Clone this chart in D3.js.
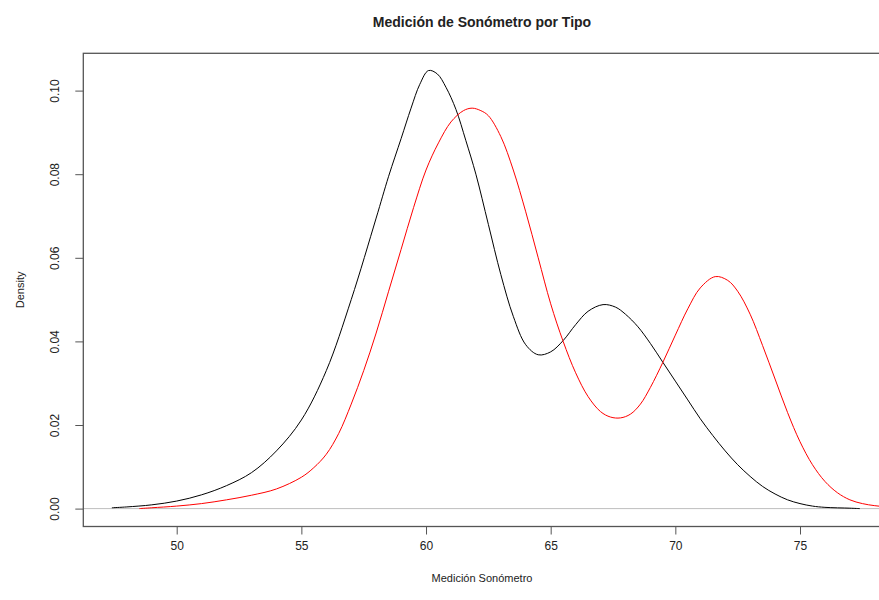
<!DOCTYPE html>
<html>
<head>
<meta charset="utf-8">
<script src="https://cdn.jsdelivr.net/npm/d3@7"></script>
<style>
  html, body { margin: 0; padding: 0; background: #fff; }
  svg { display: block; }
  text { font-family: "Liberation Sans", Arial, sans-serif; fill: #222; }
</style>
</head>
<body>
<svg id="chart" width="879" height="600"></svg>
<script>
// ---- Data ----
const title = "Medición de Sonómetro por Tipo";
const xLabel = "Medición Sonómetro";
const yLabel = "Density";
const xTicks = [50, 55, 60, 65, 70, 75];
const yTicks = [0, 0.02, 0.04, 0.06, 0.08, 0.10];

// Series 1 (black)
const blackX = [47.4, 48, 49, 50, 51, 52, 53, 54, 55, 56, 57, 58, 58.5, 59, 59.4, 59.75, 60.1, 60.45, 60.8, 61.2, 61.6, 62, 62.5, 63, 63.5, 64, 64.5, 65, 65.5, 66, 66.5, 67.1, 67.6, 68, 68.5, 69, 69.5, 70, 70.5, 71, 71.5, 72, 72.5, 73, 73.5, 74, 74.5, 75, 75.5, 76, 77, 77.4];
const blackY = [0.0002, 0.0004, 0.0009, 0.0018, 0.0033, 0.0055, 0.0086, 0.0138, 0.0212, 0.0330, 0.0500, 0.0695, 0.0795, 0.0885, 0.0958, 0.1015, 0.1048, 0.1040, 0.1008, 0.0955, 0.0880, 0.0800, 0.0680, 0.0560, 0.0460, 0.0392, 0.0368, 0.0375, 0.0402, 0.0440, 0.0472, 0.0488, 0.0482, 0.0465, 0.0435, 0.0395, 0.0350, 0.0305, 0.0260, 0.0215, 0.0175, 0.0138, 0.0105, 0.0077, 0.0053, 0.0035, 0.0021, 0.0012, 0.0006, 0.0003, 0.0001, 0.0000];

// Series 2 (red)
const redX = [48.5, 49, 50, 51, 52, 53, 54, 55, 55.5, 56, 56.5, 57, 57.5, 58, 58.5, 59, 59.5, 60, 60.5, 61, 61.5, 61.85, 62.2, 62.5, 63, 63.5, 64, 64.5, 65, 65.5, 66, 66.5, 67, 67.4, 67.8, 68.2, 68.6, 69, 69.5, 70, 70.5, 71, 71.6, 72.1, 72.5, 73, 73.5, 74, 74.5, 75, 75.5, 76, 76.5, 77, 77.5, 78, 78.5, 79];
const redY = [0.0000, 0.0002, 0.0006, 0.0012, 0.0021, 0.0032, 0.0047, 0.0075, 0.0098, 0.0130, 0.0180, 0.0250, 0.0330, 0.0420, 0.0520, 0.0620, 0.0720, 0.0810, 0.0875, 0.0925, 0.0952, 0.0958, 0.0952, 0.0940, 0.0890, 0.0810, 0.0710, 0.0600, 0.0490, 0.0400, 0.0325, 0.0268, 0.0232, 0.0219, 0.0217, 0.0226, 0.0250, 0.0290, 0.0350, 0.0415, 0.0478, 0.0528, 0.0555, 0.0546, 0.0520, 0.0465, 0.0390, 0.0310, 0.0230, 0.0160, 0.0105, 0.0065, 0.0038, 0.0021, 0.0012, 0.0007, 0.0004, 0.0002];

const series = [
  { name: "black", xs: blackX, ys: blackY, color: "#000000" },
  { name: "red", xs: redX, ys: redY, color: "#ff0000" }
];

// ---- Layout ----
const plot = { left: 83.3, right: 880.7, top: 53.3, bottom: 526.5 };

const x = d3.scaleLinear().domain([50, 75]).range([176.7, 800]);
const y = d3.scaleLinear().domain([0, 0.10]).range([508.6, 90.6]);

const svg = d3.select("#chart");

svg.append("defs").append("clipPath").attr("id", "clip")
  .append("rect")
  .attr("x", plot.left).attr("y", plot.top)
  .attr("width", plot.right - plot.left).attr("height", plot.bottom - plot.top);

// Zero reference line (gray)
svg.append("line")
  .attr("x1", plot.left).attr("x2", plot.right)
  .attr("y1", y(0)).attr("y2", y(0))
  .attr("stroke", "#bebebe").attr("stroke-width", 1);

// Density curves
const line = d3.line()
  .x(d => x(d[0]))
  .y(d => y(d[1]))
  .curve(d3.curveCatmullRom.alpha(0.5));

const g = svg.append("g").attr("clip-path", "url(#clip)");
series.forEach(s => {
  const pts = s.xs.map((v, i) => [v, s.ys[i]]);
  g.append("path")
    .datum(pts)
    .attr("d", line)
    .attr("fill", "none")
    .attr("stroke", s.color)
    .attr("stroke-width", 1);
});

// Plot box
svg.append("rect")
  .attr("x", plot.left).attr("y", plot.top)
  .attr("width", plot.right - plot.left).attr("height", plot.bottom - plot.top)
  .attr("fill", "none").attr("stroke", "#555").attr("stroke-width", 1.3);

// X axis (R-style: ticks below the box)
const xAxis = d3.axisBottom(x).tickValues(xTicks).tickSize(8).tickPadding(7).tickFormat(d3.format("d"));
const xg = svg.append("g").attr("transform", `translate(0,${plot.bottom})`).call(xAxis);
xg.select(".domain").remove();
xg.selectAll(".tick line").attr("stroke", "#555");
xg.selectAll(".tick text").attr("font-size", 12).attr("fill", "#333")
  .style("font-family", '"Liberation Sans", Arial, sans-serif');

// Y axis (R-style: rotated tick labels)
const yAxis = d3.axisLeft(y).tickValues(yTicks).tickSize(8).tickFormat(d3.format(".2f"));
const yg = svg.append("g").attr("transform", `translate(${plot.left},0)`).call(yAxis);
yg.select(".domain").remove();
yg.selectAll(".tick line").attr("stroke", "#555");
yg.selectAll(".tick text")
  .attr("font-size", 12).attr("fill", "#333")
  .style("font-family", '"Liberation Sans", Arial, sans-serif')
  .attr("x", null).attr("dy", null)
  .attr("text-anchor", "middle")
  .attr("dominant-baseline", "central")
  .attr("transform", "translate(-28,0) rotate(-90)");

// Title
svg.append("text")
  .attr("x", (plot.left + plot.right) / 2).attr("y", 27)
  .attr("text-anchor", "middle")
  .attr("font-size", 14).attr("font-weight", "bold").attr("fill", "#111")
  .text(title);

// X label
svg.append("text")
  .attr("x", (plot.left + plot.right) / 2).attr("y", 582)
  .attr("text-anchor", "middle")
  .attr("font-size", 11).attr("fill", "#333")
  .text(xLabel);

// Y label
svg.append("text")
  .attr("transform", `translate(20,${(plot.top + plot.bottom) / 2}) rotate(-90)`)
  .attr("text-anchor", "middle")
  .attr("dominant-baseline", "central")
  .attr("font-size", 11).attr("fill", "#333")
  .text(yLabel);
</script>
</body>
</html>
